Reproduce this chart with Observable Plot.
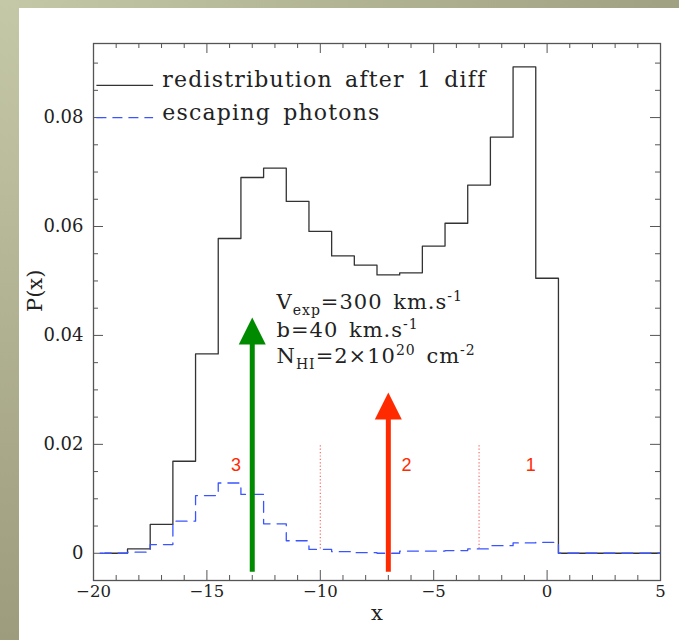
<!DOCTYPE html>
<html>
<head>
<meta charset="utf-8">
<script src="https://cdn.jsdelivr.net/npm/d3@7"></script>
<script src="https://cdn.jsdelivr.net/npm/@observablehq/plot@0.6"></script>
<style>
  html, body { margin: 0; padding: 0; width: 679px; height: 640px; overflow: hidden; }
  body { position: relative; background: #b4b694; }
  #band-top { position: absolute; left: 0; top: 0; width: 679px; height: 8px;
    background: linear-gradient(to right, #c5c8a6, #9fa182); }
  #band-left { position: absolute; left: 0; top: 0; width: 19px; height: 640px;
    background: linear-gradient(to bottom, #c5c8a6, #9d9c7d); }
  #panel { position: absolute; left: 19px; top: 8px; width: 660px; height: 632px; background: #fff; }
  #panel svg g[aria-label="x-axis tick label"] { font-family: 'DejaVu Serif', serif; font-size: 16.5px; }
  #panel svg g[aria-label="y-axis tick label"] { font-family: 'DejaVu Serif', serif; font-size: 18px; }
</style>
</head>
<body>
<div id="band-top"></div>
<div id="band-left"></div>
<div id="panel"></div>
<script>
// Histogram bins (centres, unit width) and the two distributions P(x)
const binCenter = [-20, -19, -18, -17, -16, -15, -14, -13, -12, -11, -10, -9, -8, -7, -6, -5, -4, -3, -2, -1, 0, 1, 2, 3, 4, 5];
const pRedistribution = [null, 0.0000, 0.0008, 0.0053, 0.0169, 0.0366, 0.0578, 0.0690, 0.0707, 0.0646, 0.0591, 0.0546, 0.0529, 0.0511, 0.0515, 0.0564, 0.0606, 0.0676, 0.0764, 0.0893, 0.0505, 0, 0, 0, 0, 0];
const pEscaping = [0, 0, 0.0002, 0.0016, 0.0059, 0.0106, 0.0129, 0.0108, 0.0054, 0.0023, 0.0007, 0.0003, 0.0001, 0.0000, 0.0004, 0.0004, 0.0005, 0.0008, 0.0014, 0.0019, 0.0020, 0, 0, 0, 0, 0];

// Axis ticks
const xMajor = [-20, -15, -10, -5, 0, 5];
const xMinor = [-19, -18, -17, -16, -14, -13, -12, -11, -9, -8, -7, -6, -4, -3, -2, -1, 1, 2, 3, 4];
const yMajor = [0, 0.02, 0.04, 0.06, 0.08];
const yMinor = [0.005, 0.01, 0.015, 0.025, 0.03, 0.035, 0.045, 0.05, 0.055, 0.065, 0.07, 0.075, 0.085, 0.09];
const xDomain = [-20, 5];
const yDomain = [-0.005, 0.0936];

// Legend
const legendLabels = ["redistribution after 1 diff", "escaping photons"];
const legendLineY = [0.0859, 0.0800];
const legendTextY = [0.0856, 0.0795];
const legendLineX = [-19.85, -17.35];
const legendTextX = -16.97;

// Model parameters
const paramLines = ["V_{exp}=300 km.s^{-1}", "b=40 km.s^{-1}", "N_{HI}=2×10^{20} cm^{-2}"];
const paramY = [0.0449, 0.0398, 0.0349];
const paramX = -11.93;

// Arrows marking the two frequencies
const arrowX = [-13, -7];
const arrowTip = [0.0433, 0.0295];
const arrowBase = [0.0385, 0.0250];
const arrowTail = -0.0035;
const arrowColor = ["#008a00", "#ff2a00"];

// Regions 1-3 and their boundaries
const regionText = ["3", "2", "1"];
const regionX = [-13.72, -6.2, -0.72];
const regionY = 0.0161;
const dividerX = [-10, -3];
const dividerY = [0.0008, 0.02];

const serif = "'DejaVu Serif', serif";
const xTickFormat = d => d < 0 ? "\u2212" + (-d) : String(d);
const yTickFormat = d => d === 0 ? "0" : d.toFixed(2);

// step outline: each bin drawn from its left edge to its right edge
function stepPoints(values) {
  const pts = [];
  binCenter.forEach((c, i) => { if (values[i] != null) pts.push({x: c - 0.5, y: values[i]}); });
  pts.push({x: binCenter[binCenter.length - 1] + 0.5, y: values[values.length - 1]});
  return pts;
}

// filled arrowhead with its tip at the anchor point
const arrowhead = {
  draw(context, size) {
    const r = Math.sqrt(size / Math.PI);
    context.moveTo(0, 0);
    context.lineTo(r, 2 * r);
    context.lineTo(-r, 2 * r);
    context.closePath();
  }
};

const tickColor = "#555";

const marks = [
  // minor and major ticks on all four sides, pointing inward
  Plot.ruleX(xMinor, {x: d => d, y1: yDomain[0], y2: yDomain[0], insetTop: -5, stroke: tickColor}),
  Plot.ruleX(xMajor, {x: d => d, y1: yDomain[0], y2: yDomain[0], insetTop: -10, stroke: tickColor}),
  Plot.ruleX(xMinor, {x: d => d, y1: yDomain[1], y2: yDomain[1], insetBottom: -5, stroke: tickColor}),
  Plot.ruleX(xMajor, {x: d => d, y1: yDomain[1], y2: yDomain[1], insetBottom: -10, stroke: tickColor}),
  Plot.ruleY(yMinor, {y: d => d, x1: xDomain[0], x2: xDomain[0], insetRight: -5, stroke: tickColor}),
  Plot.ruleY(yMajor, {y: d => d, x1: xDomain[0], x2: xDomain[0], insetRight: -10, stroke: tickColor}),
  Plot.ruleY(yMinor, {y: d => d, x1: xDomain[1], x2: xDomain[1], insetLeft: -5, stroke: tickColor}),
  Plot.ruleY(yMajor, {y: d => d, x1: xDomain[1], x2: xDomain[1], insetLeft: -10, stroke: tickColor}),
  Plot.axisX(xMajor, {tickSize: 0, tickPadding: 5, tickFormat: xTickFormat, label: null}),
  Plot.axisY(yMajor, {tickSize: 0, tickPadding: 10, tickFormat: yTickFormat, label: null}),
  Plot.text(["P(x)"], {text: d => d, frameAnchor: "left", dx: -58, rotate: -90, fontSize: 21, fontFamily: serif}),
  Plot.text(["x"], {text: d => d, frameAnchor: "bottom", dy: 39, fontSize: 21, fontFamily: serif}),

  // region boundaries and numbers
  Plot.ruleX(dividerX, {x: d => d, y1: dividerY[0], y2: dividerY[1], stroke: "#ff5a5a", strokeWidth: 1.1, strokeDasharray: "1.2,2.2"}),
  Plot.text(regionText, {text: d => d, x: (d, i) => regionX[i], y: regionY, fill: "#ff2a00",
    fontFamily: "'Liberation Sans', sans-serif", fontSize: 18}),

  // the two histograms
  Plot.line(stepPoints(pRedistribution), {x: "x", y: "y", curve: "step-after", stroke: "#333", strokeWidth: 1.3, clip: true}),
  Plot.line(stepPoints(pEscaping), {x: "x", y: "y", curve: "step-after", stroke: "#3a55ff", strokeWidth: 1.3, strokeDasharray: "11,7", clip: true}),

  // arrows
  ...arrowX.map((ax, i) => Plot.ruleX([ax], {x: d => d, y1: arrowTail, y2: arrowBase[i], stroke: arrowColor[i], strokeWidth: 5})),
  ...arrowX.map((ax, i) => Plot.dot([ax], {x: d => d, y: arrowTip[i], r: 13.5, symbol: arrowhead, fill: arrowColor[i], stroke: "none"})),

  // legend
  Plot.ruleY([legendLineY[0]], {y: d => d, x1: legendLineX[0], x2: legendLineX[1], stroke: "#333", strokeWidth: 1.3}),
  Plot.ruleY([legendLineY[1]], {y: d => d, x1: legendLineX[0], x2: legendLineX[1], stroke: "#3a55ff", strokeWidth: 1.3, strokeDasharray: "10,6"}),
  Plot.text(legendLabels, {text: d => d, x: legendTextX, y: (d, i) => legendTextY[i], textAnchor: "start",
    lineAnchor: "bottom", fontSize: 22, fontFamily: serif}),

  // model parameters
  Plot.text(paramLines, {text: d => d, x: paramX, y: (d, i) => paramY[i], textAnchor: "start",
    lineAnchor: "bottom", fontSize: 21, fontFamily: serif}),

  Plot.frame({stroke: "#555", strokeWidth: 1.3})
];

const chart = Plot.plot({
  width: 660,
  height: 632,
  marginLeft: 74,
  marginRight: 19,
  marginTop: 35,
  marginBottom: 60,
  x: {domain: xDomain},
  y: {domain: yDomain},
  style: {fontFamily: serif, fontSize: "16px", color: "#222", background: "transparent", overflow: "visible"},
  marks
});

// wide Hershey-like spacing for the legend; sub/superscripts for the parameter lines
d3.select(chart).selectAll("text").each(function () {
  const el = d3.select(this);
  const src = el.text();
  if (legendLabels.includes(src)) {
    el.attr("letter-spacing", 1.2).attr("word-spacing", 4);
    return;
  }
  if (!paramLines.includes(src)) return;
  el.attr("letter-spacing", 1).attr("word-spacing", 3);
  el.text(null);
  const re = /([_^])\{([^}]*)\}/g;
  let last = 0, offset = 0, m;
  const add = (str, target, size) => {
    if (!str) return;
    const t = el.append("tspan").text(str);
    if (target !== offset) t.attr("dy", target - offset);
    if (size) t.attr("font-size", size);
    offset = target;
  };
  while ((m = re.exec(src))) {
    add(src.slice(last, m.index), 0, null);
    if (m[1] === "_") add(m[2], 6, 14); else add(m[2], -8, 14);
    last = re.lastIndex;
  }
  add(src.slice(last), 0, null);
});

document.getElementById("panel").appendChild(chart);
</script>
</body>
</html>
